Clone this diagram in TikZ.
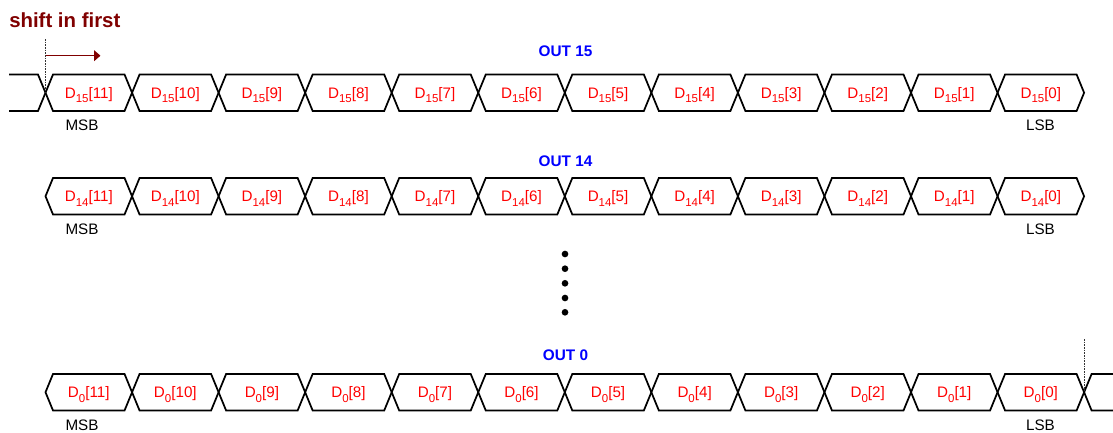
\documentclass[tikz,border=0pt]{standalone}
\usepackage{fontspec}
\setmainfont{Liberation Sans}
\usetikzlibrary{arrows.meta}
\definecolor{dkred}{HTML}{800000}
\newcommand{\dbit}[2]{D\raisebox{-0.3em}{\fontsize{8.6pt}{9pt}\selectfont #1}[#2]}
\tikzset{
  px/.style={x=0.75pt,y=-0.75pt},
  wave/.style={draw=black,line width=1.3pt,line join=miter},
  bitlabel/.style={text=red,font=\fontsize{11.4pt}{13pt}\selectfont,inner sep=0pt,anchor=base},
  endlabel/.style={text=black,font=\fontsize{11.4pt}{13pt}\selectfont,inner sep=0pt,anchor=base},
  outlabel/.style={text=blue,font=\bfseries\fontsize{11.5pt}{13pt}\selectfont,inner sep=0pt,anchor=base},
  marker/.style={draw=black!80,line width=0.5pt,dash pattern=on 1.2pt off 0.8pt},
  shiftarrow/.style={draw=dkred,line width=1.1pt,-{Triangle[length=4.8pt,width=8pt]}},
  dotmark/.style={circle,fill=black,draw=none,minimum size=5pt,inner sep=0pt}
}
\begin{document}
\begin{tikzpicture}[px]
\useasboundingbox (0,0) rectangle (1113,432);
\def\per{86.55}
\def\sl{7.5}
% rows: out number, top, bottom, label baseline, msb/lsb baseline, title baseline
\foreach \out/\top/\bot/\ly/\ey/\ty in {15/74.5/111/98/130/56, 14/178/214.5/201.7/234/166, 0/374/410.5/397.7/430/360}{
  \pgfmathsetmacro{\mid}{(\top+\bot)/2}
  \node[outlabel] (title\out) at (565.5,\ty) {OUT \out};
  \foreach \i in {0,...,11}{
    \pgfmathsetmacro{\xa}{45.5+\i*\per}
    \pgfmathsetmacro{\xb}{\xa+\per}
    \pgfmathtruncatemacro{\bitno}{11-\i}
    \draw[wave] (\xa,\mid) -- (\xa+\sl,\top) -- (\xb-\sl,\top) -- (\xb,\mid) -- (\xb-\sl,\bot) -- (\xa+\sl,\bot) -- cycle;
    \node[bitlabel] (b\out-\bitno) at ({(\xa+\xb)/2},\ly) {\dbit{\out}{\bitno}};
  }
  \node[endlabel] (msb\out) at (82,\ey) {MSB};
  \node[endlabel] (lsb\out) at (1040.5,\ey) {LSB};
}
% lead-in of first row
\coordinate (inT) at (9,74.5);
\coordinate (inB) at (9,111);
\coordinate (inC) at (45.5,92.75);
\draw[wave] (inT) -- (38,74.5) -- (inC) -- (38,111) -- (inB);
% lead-out of last row
\coordinate (outC) at (1084.1,392.25);
\coordinate (outT) at (1113,374);
\coordinate (outB) at (1113,410.5);
\draw[wave] (outT) -- (1091.6,374) -- (outC) -- (1091.6,410.5) -- (outB);
% markers
\coordinate (mkA) at (45.5,39);
\coordinate (mkB) at (1084.1,339);
\draw[marker] (mkA) -- (inC);
\draw[marker] (mkB) -- (outC);
% shift label and arrow
\node[anchor=base west,inner sep=0pt,text=dkred,font=\bfseries\fontsize{15.3pt}{18pt}\selectfont] (shift) at (9,27) {shift in first};
\coordinate (arA) at (45.5,55.7);
\coordinate (arB) at (100.5,55.7);
\draw[shiftarrow] (arA) -- (arB);
% ellipsis dots
\foreach \n/\y in {1/254,2/268.7,3/283.3,4/298,5/312.3}{
  \node[dotmark] (dot\n) at (565,\y) {};
}
\end{tikzpicture}
\end{document}
